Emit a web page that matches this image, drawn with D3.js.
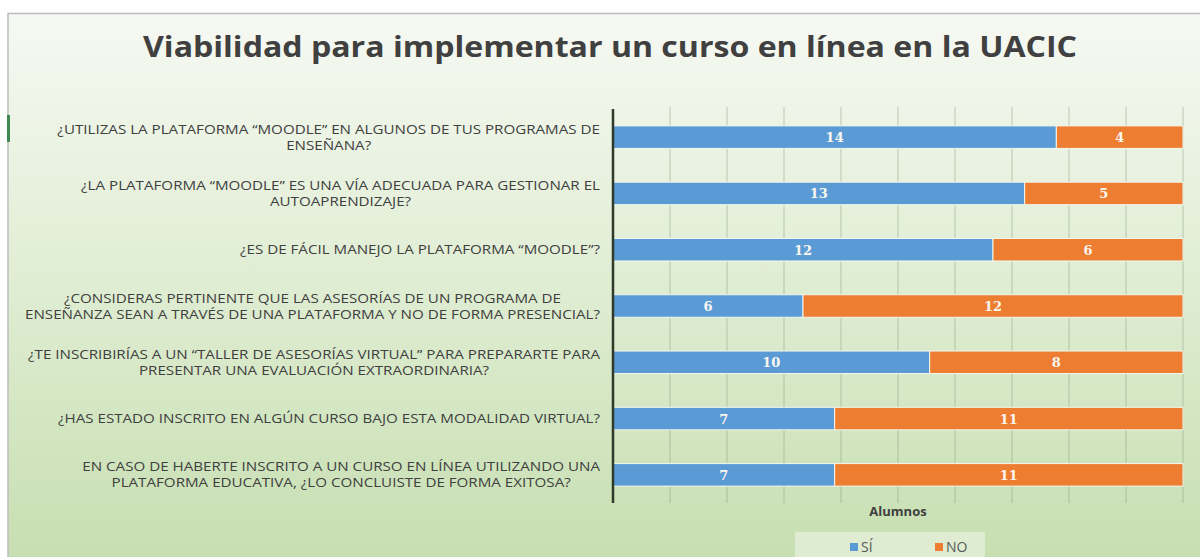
<!DOCTYPE html>
<html>
<head>
<meta charset="utf-8">
<script src="https://cdnjs.cloudflare.com/ajax/libs/d3/7.8.5/d3.min.js"></script>
<style>
  body { margin: 0; background: #fff; }
  svg { display: block; }
</style>
</head>
<body>
<svg width="1200" height="557"></svg>
<script>
var questions = [
  ["¿UTILIZAS LA PLATAFORMA “MOODLE” EN ALGUNOS DE TUS PROGRAMAS DE", "ENSEÑANA?"],
  ["¿LA PLATAFORMA “MOODLE” ES UNA VÍA ADECUADA PARA GESTIONAR EL", "AUTOAPRENDIZAJE?"],
  ["¿ES DE FÁCIL MANEJO LA PLATAFORMA “MOODLE”?"],
  ["¿CONSIDERAS PERTINENTE QUE LAS ASESORÍAS DE UN PROGRAMA DE", "ENSEÑANZA SEAN A TRAVÉS DE UNA PLATAFORMA Y NO DE FORMA PRESENCIAL?"],
  ["¿TE INSCRIBIRÍAS A UN “TALLER DE ASESORÍAS VIRTUAL” PARA PREPARARTE PARA", "PRESENTAR UNA EVALUACIÓN EXTRAORDINARIA?"],
  ["¿HAS ESTADO INSCRITO EN ALGÚN CURSO BAJO ESTA MODALIDAD VIRTUAL?"],
  ["EN CASO DE HABERTE INSCRITO A UN CURSO EN LÍNEA UTILIZANDO UNA", "PLATAFORMA EDUCATIVA, ¿LO CONCLUISTE DE FORMA EXITOSA?"]
];
var si = [14, 13, 12, 6, 10, 7, 7];
var no = [4, 5, 6, 12, 8, 11, 11];
var seriesNames = ["SÍ", "NO"];
var colors = ["#5b9bd5", "#ed7d31"];

var svg = d3.select("svg");

// background gradient
var defs = svg.append("defs");
var grad = defs.append("linearGradient").attr("id", "bg").attr("x1", 0).attr("y1", 0).attr("x2", 0).attr("y2", 1);
grad.append("stop").attr("offset", "0%").attr("stop-color", "#f6f9f3");
grad.append("stop").attr("offset", "45%").attr("stop-color", "#e1eed5");
grad.append("stop").attr("offset", "100%").attr("stop-color", "#c5deaf");

svg.append("rect").attr("x", 8).attr("y", 13.5).attr("width", 1200).attr("height", 560)
  .attr("fill", "url(#bg)").attr("stroke", "#bdbdbd").attr("stroke-width", 1.5);
svg.append("rect").attr("x", 7).attr("y", 115).attr("width", 3).attr("height", 27).attr("fill", "#3f8a52");

// title
var title = svg.append("text")
  .attr("x", 610).attr("y", 57)
  .attr("text-anchor", "middle")
  .style("font-family", "'Open Sans', sans-serif")
  .style("font-weight", "bold")
  .style("font-size", "28px")
  .attr("fill", "#404040")
  .text("Viabilidad para implementar un curso en línea en la UACIC");
title.attr("textLength", 934).attr("lengthAdjust", "spacingAndGlyphs");

// scales
var x = d3.scaleLinear().domain([0, 1]).range([613, 1183]);
var y = d3.scaleBand().domain(d3.range(questions.length)).range([109, 503]).paddingInner(0.6).paddingOuter(0.3);

var rows = questions.map(function (q, i) { return { "SÍ": si[i], "NO": no[i], i: i }; });
var stack = d3.stack().keys(seriesNames).offset(d3.stackOffsetExpand);
var layers = stack(rows);

// gridlines
var plot = svg.append("g");
plot.selectAll("line.grid")
  .data(x.ticks(10).slice(1))
  .enter().append("line")
  .attr("class", "grid")
  .attr("x1", function (d) { return x(d); })
  .attr("x2", function (d) { return x(d); })
  .attr("y1", 107).attr("y2", 503)
  .attr("stroke", "#8c9c80").attr("stroke-opacity", 0.5).attr("stroke-width", 1);

// bars
var layer = plot.selectAll("g.layer")
  .data(layers)
  .enter().append("g")
  .attr("class", "layer")
  .attr("fill", function (d, k) { return colors[k]; });

layer.selectAll("rect")
  .data(function (d) { return d; })
  .enter().append("rect")
  .attr("x", function (d) { return x(d[0]); })
  .attr("width", function (d) { return x(d[1]) - x(d[0]); })
  .attr("y", function (d) { return y(d.data.i); })
  .attr("height", y.bandwidth())
  .attr("stroke", "#f4f8ee").attr("stroke-width", 1);

layer.selectAll("text")
  .data(function (d) { var key = d.key; return d.map(function (p) { return { p: p, v: p.data[key] }; }); })
  .enter().append("text")
  .attr("x", function (d) { return (x(d.p[0]) + x(d.p[1])) / 2; })
  .attr("y", function (d) { return y(d.p.data.i) + y.bandwidth() / 2 + 5; })
  .attr("text-anchor", "middle")
  .attr("fill", "#fbf7f0")
  .style("font-family", "'DejaVu Serif', serif")
  .style("font-weight", "bold")
  .style("font-size", "13px")
  .text(function (d) { return d.v; });

// axis line
plot.append("line")
  .attr("x1", x(0)).attr("x2", x(0))
  .attr("y1", 109).attr("y2", 503)
  .attr("stroke", "#2f3a2a").attr("stroke-width", 2.5);

// category labels (centred lines, block right aligned)
var labelFont = "'Open Sans', sans-serif";
var lab = svg.append("g");
var groups = lab.selectAll("g.q")
  .data(questions)
  .enter().append("g").attr("class", "q");

var texts = groups.selectAll("text")
  .data(function (d, i) { return d.map(function (s, j) { return { s: s, j: j, n: d.length, i: i }; }); })
  .enter().append("text")
  .style("font-family", labelFont)
  .style("font-size", "12.5px")
  .attr("fill", "#404040")
  .attr("text-anchor", "middle")
  .text(function (d) { return d.s; });

var widths = [];
texts.each(function (d) { d.w = this.getComputedTextLength(); widths.push(d.w); });
var k = 575 / d3.max(widths);
var right = 600;
groups.each(function (q, i) {
  var ts = d3.select(this).selectAll("text");
  var maxW = d3.max(ts.data(), function (d) { return d.w; }) * k;
  var cx = right - maxW / 2;
  var cy = y(i) + y.bandwidth() / 2;
  ts.attr("x", cx)
    .attr("y", function (d) { return cy + (d.j - (d.n - 1) / 2) * 16 + 4.5; })
    .attr("textLength", function (d) { return d.w * k; })
    .attr("lengthAdjust", "spacingAndGlyphs");
});

// axis title
svg.append("text")
  .attr("x", (x(0) + x(1)) / 2).attr("y", 516)
  .attr("text-anchor", "middle")
  .style("font-family", labelFont)
  .style("font-weight", "bold")
  .style("font-size", "13px")
  .attr("fill", "#404040")
  .text("Alumnos");

// legend
var legend = svg.append("g");
legend.append("rect").attr("x", 795).attr("y", 532).attr("width", 190).attr("height", 30)
  .attr("fill", "#e8f1e0").attr("fill-opacity", 0.7);
var items = legend.selectAll("g.item")
  .data(seriesNames)
  .enter().append("g").attr("class", "item")
  .attr("transform", function (d, i) { return "translate(" + (850 + i * 85) + ",0)"; });
items.append("rect").attr("x", 0).attr("y", 543).attr("width", 8).attr("height", 8)
  .attr("fill", function (d, i) { return colors[i]; });
items.append("text").attr("x", 11).attr("y", 552)
  .style("font-family", labelFont)
  .style("font-size", "14px")
  .attr("fill", "#595959")
  .text(function (d) { return d; });
</script>
</body>
</html>
